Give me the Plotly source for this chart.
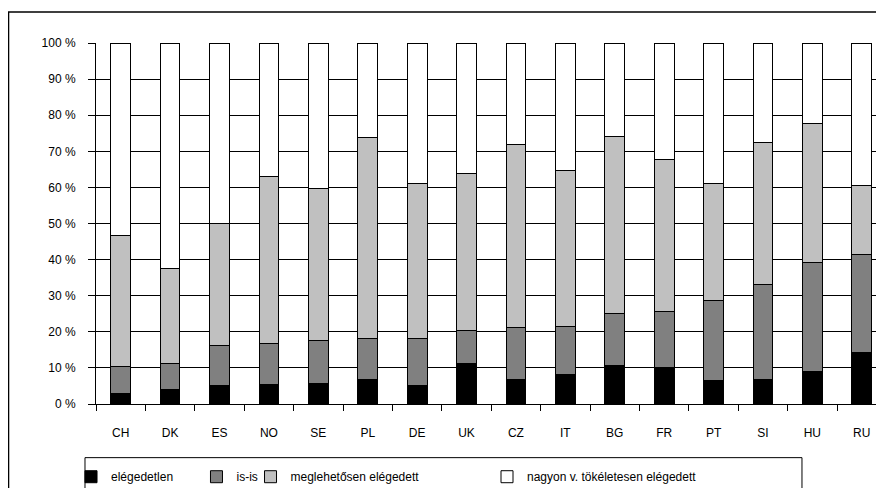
import plotly.graph_objects as go

countries = ["CH", "DK", "ES", "NO", "SE", "PL", "DE", "UK", "CZ", "IT", "BG", "FR", "PT", "SI", "HU", "RU"]

elegedetlen = [3.0, 4.1, 5.1, 5.3, 5.6, 6.9, 5.1, 11.2, 6.9, 8.1, 10.6, 10.0, 6.5, 6.9, 9.0, 14.3]
is_is = [7.4, 7.0, 11.2, 11.4, 11.9, 11.3, 13.1, 9.1, 14.3, 13.4, 14.4, 15.5, 22.2, 26.1, 30.2, 27.0]
meglehetosen = [36.4, 26.5, 33.6, 46.2, 42.2, 55.5, 42.9, 43.6, 50.7, 43.3, 49.0, 42.1, 32.4, 39.4, 38.5, 19.2]
nagyon = [53.2, 62.4, 50.1, 37.1, 40.3, 26.3, 38.9, 36.1, 28.1, 35.2, 26.0, 32.4, 38.9, 27.6, 22.3, 39.5]

series_names = ["elégedetlen", "is-is", "meglehetősen elégedett", "nagyon v. tökéletesen elégedett"]
series_values = [elegedetlen, is_is, meglehetosen, nagyon]
series_colors = ["#000000", "#808080", "#C0C0C0", "#FFFFFF"]

y_tick_vals = [0, 10, 20, 30, 40, 50, 60, 70, 80, 90, 100]
y_tick_text = ["0 %", "10 %", "20 %", "30 %", "40 %", "50 %", "60 %", "70 %", "80 %", "90 %", "100 %"]

FONT = "Liberation Sans, Arial, sans-serif"

legend_ids = ["legend", "legend2", "legend3", "legend4"]
legend_x = [-0.0317, 0.1275, 0.1961, 0.4962]

fig = go.Figure()
for name, vals, col, lid in zip(series_names, series_values, series_colors, legend_ids):
    fig.add_trace(go.Bar(
        x=countries, y=vals, name=name, legend=lid,
        marker=dict(color=col, line=dict(color="#000000", width=1)),
    ))

legend_common = dict(orientation="h", yanchor="middle", y=-0.2014, xanchor="left",
                     bgcolor="rgba(0,0,0,0)", borderwidth=0,
                     font=dict(family=FONT, size=12, color="#000000"))

layout_legends = {}
for lid, lx in zip(legend_ids, legend_x):
    layout_legends[lid] = dict(legend_common, x=lx)

fig.update_layout(
    width=876, height=480,
    margin=dict(l=88, r=0, t=35, b=84, autoexpand=False),
    paper_bgcolor="#FFFFFF", plot_bgcolor="#FFFFFF",
    barmode="stack", bargap=0.6,
    showlegend=True,
    font=dict(family=FONT, size=12, color="#000000"),
    xaxis=dict(
        type="category", range=[-0.5, 15.45],
        showline=True, linecolor="#000000", linewidth=1,
        ticks="outside", tickson="boundaries", ticklen=6, tickcolor="#000000",
        showgrid=False, ticklabelstandoff=18,
        tickfont=dict(family=FONT, size=12, color="#000000"),
    ),
    yaxis=dict(
        range=[0, 100], tickvals=y_tick_vals, ticktext=y_tick_text,
        showline=True, linecolor="#000000", linewidth=1,
        ticks="outside", ticklen=7, tickcolor="#000000",
        showgrid=True, gridcolor="#000000", gridwidth=1, zeroline=False,
        ticklabelstandoff=10,
        tickfont=dict(family=FONT, size=12, color="#000000"),
    ),
    shapes=[
        dict(type="rect", xref="paper", yref="paper", x0=-0.1110, x1=1.02, y0=-0.3, y1=1.0858,
             line=dict(color="#000000", width=1.5), fillcolor="rgba(0,0,0,0)", layer="above"),
        dict(type="rect", xref="paper", yref="paper", x0=-0.01396, x1=0.8959, y0=-0.3, y1=-0.1486,
             line=dict(color="#000000", width=1), fillcolor="rgba(0,0,0,0)", layer="above"),
    ],
    **layout_legends,
)

fig.write_html("out.html")
